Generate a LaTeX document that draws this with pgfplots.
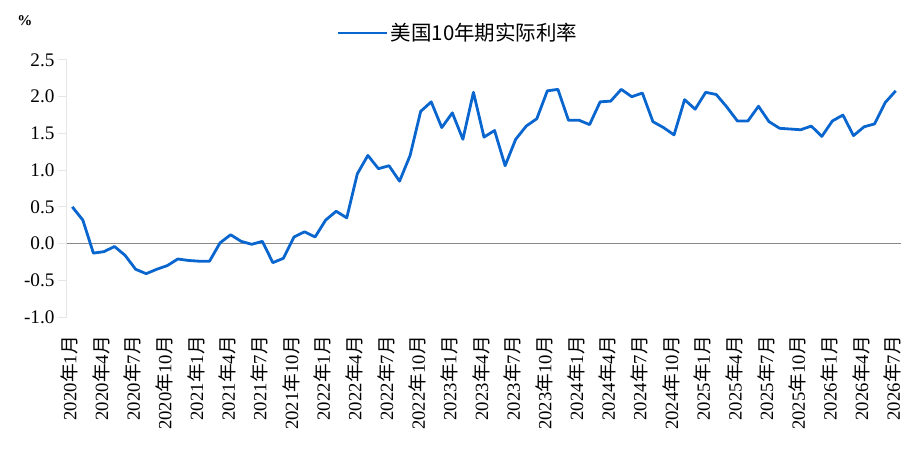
\documentclass[border=0pt]{standalone}
\usepackage{pgfplots}
\pgfplotsset{compat=1.18}
\usepackage{fontspec}
\setmainfont{Liberation Serif}
\newfontfamily\cjk{Noto Sans CJK SC}
\newcommand{\N}{{\cjk 年}}
\newcommand{\Y}{{\cjk 月}}
\definecolor{lineblue}{HTML}{0A66CF}
\definecolor{axgray}{HTML}{E6E6E6}
\definecolor{zerogray}{HTML}{888888}
\begin{document}
\begin{tikzpicture}
\useasboundingbox (-67pt,-135pt) rectangle (856pt,317pt);
\begin{axis}[
  at={(0pt,0pt)}, anchor=south west,
  scale only axis, width=834pt, height=257pt,
  xmin=-0.5, xmax=78.5, ymin=-1, ymax=2.5,
  axis line style={draw=none},
  ytick={-1,-0.5,0,0.5,1,1.5,2,2.5},
  yticklabels={-1.0,-0.5,0.0,0.5,1.0,1.5,2.0,2.5},
  xtick={0,3,...,78},
  xticklabels={2020\N1\Y,2020\N4\Y,2020\N7\Y,2020\N10\Y,
               2021\N1\Y,2021\N4\Y,2021\N7\Y,2021\N10\Y,
               2022\N1\Y,2022\N4\Y,2022\N7\Y,2022\N10\Y,
               2023\N1\Y,2023\N4\Y,2023\N7\Y,2023\N10\Y,
               2024\N1\Y,2024\N4\Y,2024\N7\Y,2024\N10\Y,
               2025\N1\Y,2025\N4\Y,2025\N7\Y,2025\N10\Y,
               2026\N1\Y,2026\N4\Y,2026\N7\Y},
  ytick pos=left, xtick pos=bottom,
  tick align=outside,
  y tick style={draw=axgray, line width=1pt},
  x tick style={draw=none},
  major tick length=9pt,
  yticklabel style={font=\fontsize{19.2}{22}\selectfont, text=black},
  xticklabel style={font=\fontsize{18.7}{22}\selectfont, rotate=90, anchor=east, inner sep=0pt, xshift=-10pt, yshift=3pt},
  legend style={at={(0.469,1.105)}, anchor=center, draw=none, fill=none,
     font=\fontsize{20.5}{24}\selectfont\cjk, inner sep=0pt},
  legend image code/.code={\draw[#1] (0pt,0pt) -- (49pt,0pt);},
  clip=false,
]
\draw[axgray, line width=1pt] (rel axis cs:0,0) -- (rel axis cs:0,1);
\draw[zerogray, line width=1.6pt] (axis cs:-0.5,0) -- (axis cs:78.5,0);
\addplot[lineblue, line width=2.8pt, line join=round] coordinates {
(0,0.50) (1,0.32) (2,-0.13) (3,-0.11) (4,-0.04) (5,-0.16) (6,-0.35) (7,-0.41)
(8,-0.35) (9,-0.30) (10,-0.21) (11,-0.23) (12,-0.24) (13,-0.24) (14,0.01) (15,0.12)
(16,0.03) (17,-0.01) (18,0.03) (19,-0.26) (20,-0.20) (21,0.09) (22,0.16) (23,0.09)
(24,0.32) (25,0.44) (26,0.35) (27,0.95) (28,1.20) (29,1.02) (30,1.06) (31,0.85)
(32,1.20) (33,1.80) (34,1.93) (35,1.58) (36,1.78) (37,1.42) (38,2.06) (39,1.45)
(40,1.54) (41,1.06) (42,1.42) (43,1.60) (44,1.70) (45,2.08) (46,2.10) (47,1.68)
(48,1.68) (49,1.62) (50,1.93) (51,1.94) (52,2.10) (53,2.00) (54,2.05) (55,1.66)
(56,1.58) (57,1.48) (58,1.96) (59,1.83) (60,2.06) (61,2.03) (62,1.86) (63,1.67)
(64,1.67) (65,1.87) (66,1.66) (67,1.57) (68,1.56) (69,1.55) (70,1.60) (71,1.46)
(72,1.67) (73,1.75) (74,1.47) (75,1.59) (76,1.63) (77,1.92) (78,2.08)
};
\addlegendentry{美国10年期实际利率}
\end{axis}
\node[font=\fontsize{15}{18}\selectfont\bfseries, inner sep=0pt] at (-42pt,296pt) {\%};
\end{tikzpicture}
\end{document}
